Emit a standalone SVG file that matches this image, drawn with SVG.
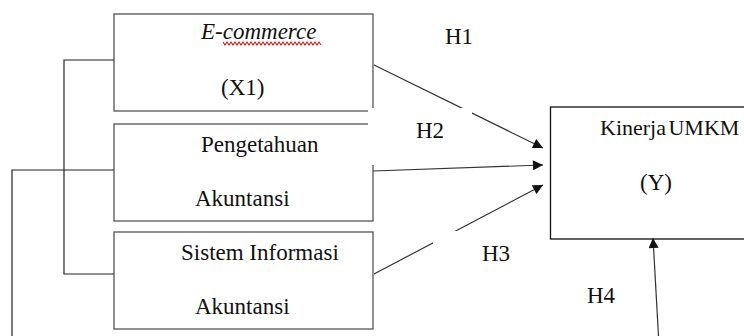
<svg xmlns="http://www.w3.org/2000/svg" width="744" height="336" viewBox="0 0 744 336">
<style>
.box{fill:#fff;stroke:#555;stroke-width:1.3}
.ybox{fill:#fff;stroke:#111;stroke-width:1.3}
.t{font-family:"Liberation Serif","Times New Roman",serif;font-size:23px;fill:#111}
.it{font-style:italic}
.ln{fill:none;stroke:#333;stroke-width:1.2}
.br{fill:none;stroke:#222;stroke-width:1.2}
.bg{fill:#fff;stroke:none}
</style>
<defs>
<marker id="ah" viewBox="0 0 10 10" refX="10" refY="5" markerWidth="11" markerHeight="10" markerUnits="userSpaceOnUse" orient="auto">
<path d="M0,0 L10,5 L0,10 Z" fill="#111"/>
</marker>
</defs>
<rect width="744" height="336" fill="#fff"/>
<g id="x1">
<rect class="box" x="114" y="14" width="259" height="97"/>
<text class="t it" x="201" y="39">E-commerce</text>
<path d="M223,42 l2,3 l2,-3 l2,3 l2,-3 l2,3 l2,-3 l2,3 l2,-3 l2,3 l2,-3 l2,3 l2,-3 l2,3 l2,-3 l2,3 l2,-3 l2,3 l2,-3 l2,3 l2,-3 l2,3 l2,-3 l2,3 l2,-3 l2,3 l2,-3 l2,3 l2,-3 l2,3 l2,-3 l2,3 l2,-3 l2,3 l2,-3 l2,3 l2,-3 l2,3 l2,-3 l2,3 l2,-3 l2,3 l2,-3 l2,3 l2,-3 l2,3 l2,-3 l2,3 l2,-3 l2,3" fill="none" stroke="#e02020" stroke-width="1.2"/>
<text class="t" x="221" y="95">(X1)</text>
</g>
<g id="x2">
<rect class="box" x="114" y="124" width="259" height="97"/>
<text class="t" x="201" y="152">Pengetahuan</text>
<text class="t" x="195" y="206">Akuntansi</text>
</g>
<g id="x3">
<rect class="box" x="114" y="232" width="259" height="97"/>
<text class="t" x="181" y="260">Sistem Informasi</text>
<text class="t" x="195" y="314">Akuntansi</text>
</g>
<g id="y">
<rect class="ybox" x="550.5" y="107" width="200" height="132"/>
<text class="t" x="600" y="135" style="font-size:22px;word-spacing:-3px">Kinerja UMKM</text>
<text class="t" x="640" y="190">(Y)</text>
</g>
<g id="connectors">
<path class="br" d="M114,60 H64 V274 H114"/>
<path class="br" d="M114,170 H12 V336"/>
<line class="ln" x1="374" y1="65" x2="543" y2="148" marker-end="url(#ah)"/>
<line class="ln" x1="373" y1="171" x2="543" y2="165" marker-end="url(#ah)"/>
<line class="ln" x1="374" y1="274" x2="543" y2="185" marker-end="url(#ah)"/>
<line class="ln" x1="658.5" y1="336" x2="653" y2="238" marker-end="url(#ah)"/>
</g>
<g id="labels">
<text class="t" x="445" y="44">H1</text>
<rect class="bg" x="368" y="108" width="104" height="57"/>
<text class="t" x="416" y="138">H2</text>
<rect class="bg" x="433" y="231" width="100" height="40"/>
<text class="t" x="482" y="261">H3</text>
<text class="t" x="587" y="303">H4</text>
</g>
</svg>
